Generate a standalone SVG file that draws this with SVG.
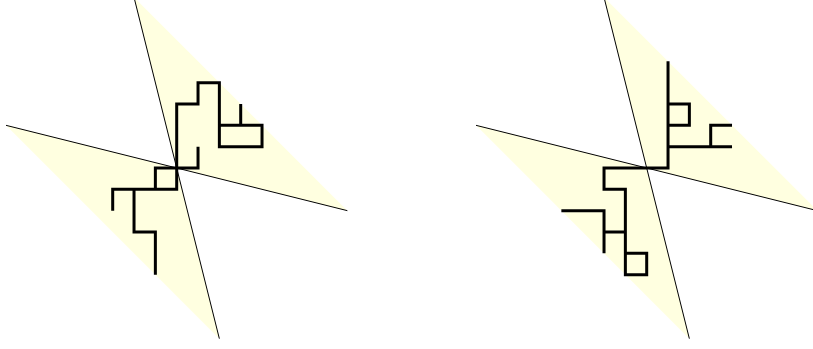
<svg xmlns="http://www.w3.org/2000/svg" width="813" height="349" viewBox="0 0 813 349">
<style>
.wedge{fill:#ffffe0;stroke:none}
.axis{fill:none;stroke:#000;stroke-width:1}
.walk{fill:none;stroke:#000;stroke-width:3;stroke-linecap:butt;stroke-linejoin:miter}
</style>
<defs>
<g id="frame">
<path class="wedge" d="M0,0 L-42.67,-170.67 L170.67,42.67 Z"/>
<path class="wedge" d="M0,0 L42.67,170.67 L-170.67,-42.67 Z"/>
<path class="axis" d="M-42.67,-170.67 L42.67,170.67 M-170.67,-42.67 L170.67,42.67"/>
</g>
</defs>
<rect width="813" height="349" fill="#fff"/>
<g id="left" transform="translate(176.7 168)">
<use href="#frame"/>
<path class="walk" d="M0,0 V-64 H21.33 V-85.33 H42.67 V-21.33 H85.33 V-42.67 H42.67 M64,-42.67 V-64 M0,0 H21.33 V-21.33 M0,0 V21.33 H-64 V42.67 M-21.33,21.33 V0 H0 M-42.67,21.33 V64 H-21.33 V106.67"/>
</g>
<g id="right" transform="translate(646.7 168)">
<use href="#frame"/>
<path class="walk" d="M21.33,-106.67 V0 H-42.67 V21.33 H-21.33 V106.67 H0 V85.33 H-21.33 M21.33,-64 H42.67 V-42.67 H21.33 M21.33,-21.33 H85.33 M64,-21.33 V-42.67 H85.33 M-85.33,42.67 H-42.67 V85.33 M-42.67,64 H-21.33"/>
</g>
</svg>
